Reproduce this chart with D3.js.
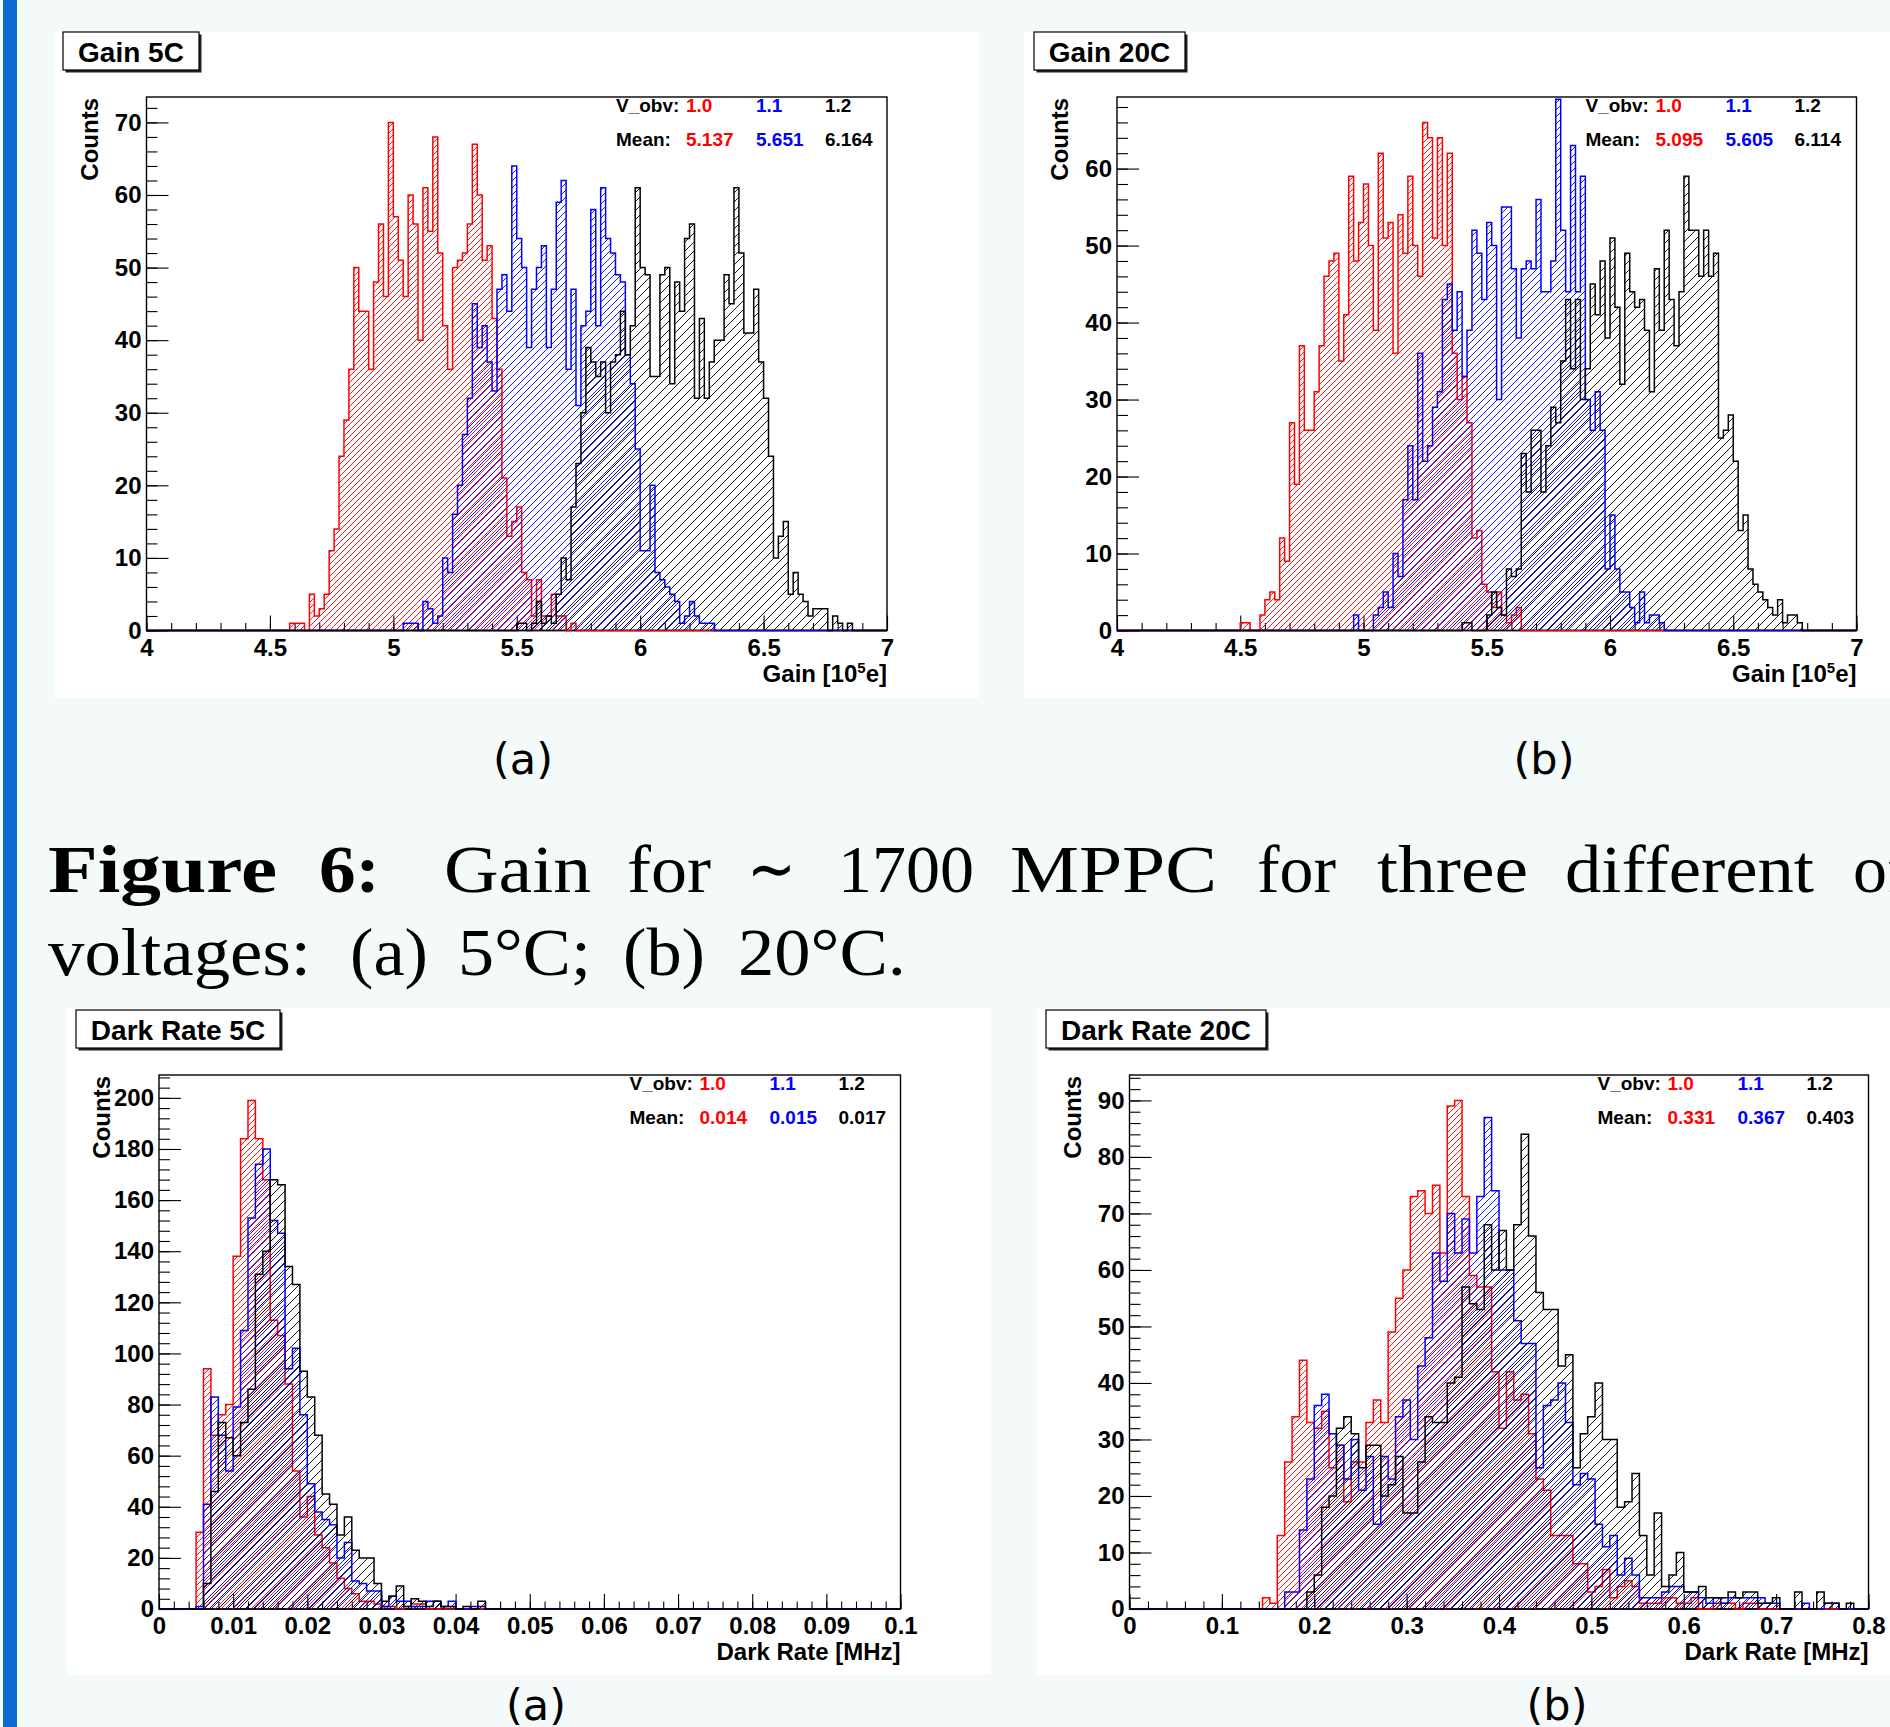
<!DOCTYPE html>
<html>
<head>
<meta charset="utf-8">
<script src="https://cdn.jsdelivr.net/npm/d3@7"></script>
<style>
  body { margin: 0; background: #f4f9f9; }
  svg { display: block; }
</style>
</head>
<body>
<script>
// ---------- data (counts per bin) ----------
const gainRange = [4, 7];
const gainBinWidth = 0.02;
const dark5Range = [0, 0.1];
const dark5BinWidth = 0.001;
const dark20Range = [0, 0.8];
const dark20BinWidth = 0.008;

const gainTicks = [4, 4.5, 5, 5.5, 6, 6.5, 7];
const dark5Ticks = [0, 0.01, 0.02, 0.03, 0.04, 0.05, 0.06, 0.07, 0.08, 0.09, 0.1];
const dark20Ticks = [0, 0.1, 0.2, 0.3, 0.4, 0.5, 0.6, 0.7, 0.8];
const gain5CountTicks = [0, 10, 20, 30, 40, 50, 60, 70];
const gain20CountTicks = [0, 10, 20, 30, 40, 50, 60];
const dark5CountTicks = [0, 20, 40, 60, 80, 100, 120, 140, 160, 180, 200];
const dark20CountTicks = [0, 10, 20, 30, 40, 50, 60, 70, 80, 90];

const overVoltages = ['1.0', '1.1', '1.2'];
const gain5Means = ['5.137', '5.651', '6.164'];
const gain20Means = ['5.095', '5.605', '6.114'];
const dark5Means = ['0.014', '0.015', '0.017'];
const dark20Means = ['0.331', '0.367', '0.403'];

// index of first listed bin, then the counts from there on
const gain5RedStart = 29;
const gain5Red = [1,1,1,0,5,2,3,5,11,14,24,29,36,50,44,44,36,48,56,46,70,57,51,46,60,56,40,61,55,68,52,42,36,50,51,52,56,67,60,51,53,43,36,21,13,15,17,8,7,2,7,2,2,5,2,2,0,1];
const gain5BlueStart = 52;
const gain5Blue = [1,1,1,0,4,3,1,2,10,8,16,20,27,32,45,39,42,37,33,47,49,44,64,54,50,39,47,50,53,39,47,59,62,36,47,31,42,44,58,42,61,54,52,49,48,38,34,25,11,11,20,8,7,6,5,4,1,2,4,2,1,1,1];
const gain5BlackStart = 75;
const gain5Black = [1,1,0,1,4,1,2,1,5,10,7,17,23,30,39,37,35,37,30,37,38,44,38,42,61,50,49,35,35,49,50,34,48,44,54,56,32,43,32,37,40,40,49,45,61,52,41,41,47,37,32,24,10,13,15,5,8,5,4,2,3,3,3,0,2,1,0,1];

const gain20RedStart = 25;
const gain20Red = [1,1,0,0,2,4,5,4,12,9,27,19,37,26,26,31,37,46,48,49,35,41,59,48,53,58,50,39,62,51,53,36,54,49,59,50,46,66,64,51,64,50,62,36,30,33,27,12,13,6,5,3,5,2,1,2,3];
const gain20BlueStart = 48;
const gain20Blue = [2,0,0,0,2,3,5,3,10,7,17,24,17,36,22,24,29,31,43,45,39,44,33,39,52,49,43,53,50,30,55,55,47,38,47,48,47,56,44,44,48,69,52,44,63,44,59,30,26,31,26,8,15,8,5,5,3,1,5,1,2,2,1];
const gain20BlackStart = 70;
const gain20Black = [1,1,0,0,0,2,5,3,2,8,7,8,23,18,26,26,18,24,29,27,35,43,34,43,30,34,45,41,48,38,51,42,32,49,44,42,43,39,31,47,39,52,43,37,44,59,52,52,46,52,46,49,25,26,28,22,13,15,8,6,5,4,3,2,4,1,2,2,1];

const dark5RedStart = 5;
const dark5Red = [30,94,68,76,80,138,184,199,184,168,113,107,88,54,36,44,29,24,18,12,8,6,3,3,2,1,1,0,1,2,2];
const dark5BlueStart = 5;
const dark5Blue = [1,41,83,68,54,79,109,153,174,180,152,147,94,102,76,49,38,35,33,20,26,11,10,7,7,1,5,3,3,1,1,3,3,1,3,0,0,1,1];
const dark5BlackStart = 6;
const dark5Black = [10,46,73,67,60,73,86,131,140,168,166,134,127,93,83,68,45,41,29,36,23,20,20,10,3,5,9,1,4,3,1,3,1,1,0,1,0,3];

const dark20RedStart = 18;
const dark20Red = [2,1,13,26,34,44,33,32,35,25,29,19,26,26,33,37,33,49,55,60,73,74,70,75,63,89,90,73,59,57,57,42,32,42,37,38,31,23,21,13,13,13,8,8,3,4,7,2,4,5,4,1,1,1,2,2,1,1,2,0,0,1,1,1,0,1,1];
const dark20BlueStart = 21;
const dark20Blue = [3,3,14,23,36,38,31,29,23,30,21,27,15,27,23,34,37,30,43,48,63,58,70,63,69,63,73,87,74,60,60,51,47,47,25,36,37,40,33,22,24,23,15,11,13,6,9,6,2,2,2,3,4,4,3,3,2,1,2,1,2,2,2,2,2,1,1,0,0,0,1,0,0,1,1];
const dark20BlackStart = 24;
const dark20Black = [3,6,18,20,32,34,31,25,29,29,20,22,27,17,17,26,34,33,33,40,41,57,54,53,68,60,67,60,68,84,66,56,53,53,43,45,25,31,34,40,30,30,18,19,24,13,6,17,4,6,10,3,3,4,2,2,2,3,2,3,3,1,1,2,0,0,3,0,0,3,1,1,0,1];

const captionLine1 = ['Figure', '6:', 'Gain', 'for', '\u223C', '1700', 'MPPC', 'for', 'three', 'different', 'of'];
const captionLine2 = ['voltages:', '(a)', '5\u00B0C;', '(b)', '20\u00B0C.'];

// ---------- page ----------
const W = 1890, H = 1727;
const colors = ['#ff0000', '#0000ff', '#000000'];
const hatchStep = [6, 7, 9];
const sansBold = 'Liberation Sans, Arial, Helvetica, sans-serif';

const svg = d3.select('body').append('svg').attr('width', W).attr('height', H);
svg.append('rect').attr('width', W).attr('height', H).attr('fill', '#f4f9f9');
svg.append('rect').attr('x', 3).attr('y', 0).attr('width', 14).attr('height', H).attr('fill', '#0a6ad2');

const defs = svg.append('defs');
colors.forEach((c, i) => {
  const s = hatchStep[i];
  defs.append('pattern')
      .attr('id', 'hatch' + i)
      .attr('patternUnits', 'userSpaceOnUse')
      .attr('width', s).attr('height', s)
    .append('path')
      .attr('d', `M${-s/2},${s/2}L${s/2},${-s/2}M0,${s}L${s},0M${s/2},${s*1.5}L${s*1.5},${s/2}`)
      .attr('stroke', c).attr('stroke-width', 0.9).attr('fill', 'none');
});

const panels = [
  { id: 'g5', title: 'Gain 5C', panel: [55, 32, 979, 698], box: [63, 32], frame: [146.5, 97, 887, 630.5],
    range: gainRange, binW: gainBinWidth, xTicks: gainTicks, xMinor: 0.1, yTicks: gain5CountTicks, yMinor: 2,
    means: gain5Means, sub: '(a)', subPos: [523, 774],
    series: [[gain5RedStart, gain5Red], [gain5BlueStart, gain5Blue], [gain5BlackStart, gain5Black]] },
  { id: 'g20', title: 'Gain 20C', panel: [1024, 32, 1890, 698], box: [1034, 32], frame: [1117, 97, 1856.5, 630.5],
    range: gainRange, binW: gainBinWidth, xTicks: gainTicks, xMinor: 0.1, yTicks: gain20CountTicks, yMinor: 2,
    means: gain20Means, sub: '(b)', subPos: [1544, 774],
    series: [[gain20RedStart, gain20Red], [gain20BlueStart, gain20Blue], [gain20BlackStart, gain20Black]] },
  { id: 'd5', title: 'Dark Rate 5C', panel: [66, 1008, 991, 1675], box: [76, 1010], frame: [159, 1075, 900.5, 1609],
    range: dark5Range, binW: dark5BinWidth, xTicks: dark5Ticks, xMinor: 0.002, yTicks: dark5CountTicks, yMinor: 4,
    means: dark5Means, sub: '(a)', subPos: [536, 1720],
    series: [[dark5RedStart, dark5Red], [dark5BlueStart, dark5Blue], [dark5BlackStart, dark5Black]] },
  { id: 'd20', title: 'Dark Rate 20C', panel: [1037, 1008, 1890, 1675], box: [1046, 1010], frame: [1129.5, 1075, 1868.5, 1609],
    range: dark20Range, binW: dark20BinWidth, xTicks: dark20Ticks, xMinor: 0.02, yTicks: dark20CountTicks, yMinor: 2,
    means: dark20Means, sub: '(b)', subPos: [1557, 1720],
    series: [[dark20RedStart, dark20Red], [dark20BlueStart, dark20Blue], [dark20BlackStart, dark20Black]] }
];

const xTitles = { g5: 'gain', g20: 'gain', d5: 'Dark Rate [MHz]', d20: 'Dark Rate [MHz]' };

function drawPanel(p) {
  const g = svg.append('g');
  const [fx0, fy0, fx1, fy1] = p.frame;
  g.append('rect')
    .attr('x', p.panel[0]).attr('y', p.panel[1])
    .attr('width', p.panel[2] - p.panel[0]).attr('height', p.panel[3] - p.panel[1])
    .attr('fill', '#fff');

  const x = d3.scaleLinear().domain(p.range).range([fx0, fx1]);
  const yMax = d3.max(p.series[0][1]) * 1.05;
  const y = d3.scaleLinear().domain([0, yMax]).range([fy1, fy0]);

  g.append('rect').attr('x', fx0).attr('y', fy0).attr('width', fx1 - fx0).attr('height', fy1 - fy0)
    .attr('fill', 'none').attr('stroke', '#000').attr('stroke-width', 1.4);

  defs.append('clipPath').attr('id', 'clip-' + p.id)
    .append('rect').attr('x', fx0 - 1).attr('y', fy0).attr('width', fx1 - fx0 + 2).attr('height', fy1 - fy0 + 2);
  const hg = g.append('g').attr('clip-path', `url(#clip-${p.id})`);

  const nBins = Math.round((p.range[1] - p.range[0]) / p.binW);
  const area = d3.area().x(d => x(d[0])).y0(y(0)).y1(d => y(d[1]));
  const line = d3.line().x(d => x(d[0])).y(d => y(d[1]));

  p.series.forEach(([start, counts], si) => {
    const bins = new Array(nBins).fill(0);
    counts.forEach((c, i) => { bins[start + i] = c; });
    const pts = [[p.range[0], 0]];
    bins.forEach((c, i) => {
      const lo = p.range[0] + i * p.binW;
      pts.push([lo, c], [lo + p.binW, c]);
    });
    pts.push([p.range[1], 0]);
    hg.append('path').attr('d', area(pts)).attr('fill', `url(#hatch${si})`);
    hg.append('path').attr('d', line(pts)).attr('fill', 'none')
      .attr('stroke', colors[si]).attr('stroke-width', 1.5).attr('stroke-linejoin', 'miter');
  });

  // x axis (ticks point inward, like ROOT)
  const fmt = d3.format('~g');
  const xMinorVals = d3.range(Math.round((p.range[1] - p.range[0]) / p.xMinor) + 1)
    .map(i => p.range[0] + i * p.xMinor);
  const gxm = g.append('g').attr('transform', `translate(0,${fy1})`)
    .call(d3.axisBottom(x).tickValues(xMinorVals).tickSize(-7.5).tickFormat(''));
  const gx = g.append('g').attr('transform', `translate(0,${fy1})`)
    .call(d3.axisBottom(x).tickValues(p.xTicks).tickSize(-15).tickPadding(8).tickFormat(fmt));

  const yMinorVals = d3.range(0, yMax, p.yMinor);
  const gym = g.append('g').attr('transform', `translate(${fx0},0)`)
    .call(d3.axisLeft(y).tickValues(yMinorVals).tickSize(-11).tickFormat(''));
  const gy = g.append('g').attr('transform', `translate(${fx0},0)`)
    .call(d3.axisLeft(y).tickValues(p.yTicks).tickSize(-22).tickPadding(5).tickFormat(d3.format('d')));

  [gxm, gx, gym, gy].forEach(a => {
    a.select('.domain').remove();
    a.selectAll('line').attr('stroke', '#000').attr('stroke-width', 1.1);
    a.attr('font-family', sansBold).attr('font-size', 24).attr('font-weight', 'bold');
    a.selectAll('text').attr('fill', '#000');
  });
  g.append('line').attr('x1', fx0).attr('x2', fx1).attr('y1', fy1).attr('y2', fy1)
    .attr('stroke', '#000').attr('stroke-width', 1.6);
  // coloured baselines of the histograms stay on top of the axis line
  hg.raise();

  // axis titles
  g.append('text')
    .attr('transform', `translate(${fx0 - 49},${fy0 + 1}) rotate(-90)`)
    .attr('text-anchor', 'end')
    .attr('font-family', sansBold).attr('font-weight', 'bold').attr('font-size', 24)
    .text('Counts');
  const xt = g.append('text')
    .attr('x', fx1).attr('y', fy1 + 51)
    .attr('text-anchor', 'end')
    .attr('font-family', sansBold).attr('font-weight', 'bold').attr('font-size', 24);
  if (xTitles[p.id] === 'gain') {
    xt.append('tspan').text('Gain [10');
    xt.append('tspan').attr('font-size', 15).attr('dy', -9).text('5');
    xt.append('tspan').attr('dy', 9).text('e]');
  } else {
    xt.text(xTitles[p.id]);
  }

  // legend
  const lg = g.append('g').attr('font-family', sansBold).attr('font-weight', 'bold').attr('font-size', 19);
  const colX = [fx1 - 271, fx1 - 201, fx1 - 131, fx1 - 62];
  lg.append('text').attr('x', colX[0]).attr('y', fy0 + 15).text('V_obv:');
  lg.append('text').attr('x', colX[0]).attr('y', fy0 + 49).text('Mean:');
  overVoltages.forEach((v, i) => {
    lg.append('text').attr('x', colX[i + 1]).attr('y', fy0 + 15).attr('fill', colors[i]).text(v);
    lg.append('text').attr('x', colX[i + 1]).attr('y', fy0 + 49).attr('fill', colors[i]).text(p.means[i]);
  });

  // title box with shadow
  const tb = g.append('g');
  const tt = tb.append('text')
    .attr('font-family', sansBold).attr('font-weight', 'bold').attr('font-size', 28)
    .text(p.title);
  const tw = tt.node().getComputedTextLength();
  const bw = Math.round(tw + 30), bh = 38;
  tb.insert('rect', 'text').attr('x', p.box[0] + 2.5).attr('y', p.box[1] + 2.5)
    .attr('width', bw).attr('height', bh).attr('fill', '#222');
  tb.insert('rect', 'text').attr('x', p.box[0]).attr('y', p.box[1])
    .attr('width', bw).attr('height', bh).attr('fill', '#fff').attr('stroke', '#000').attr('stroke-width', 1.2);
  tt.attr('x', p.box[0] + bw / 2).attr('y', p.box[1] + 30).attr('text-anchor', 'middle');

  // sub caption
  svg.append('text')
    .attr('x', p.subPos[0]).attr('y', p.subPos[1])
    .attr('text-anchor', 'middle')
    .attr('font-family', 'DejaVu Sans, Verdana, sans-serif').attr('font-size', 43)
    .text(p.sub);
}

panels.forEach(drawPanel);

// ---------- figure caption (serif, justified) ----------
const line1Layout = [[48, 229], [319, 61], [444, 147], [627, 84], [747, 49], [838, 136], [1010, 207], [1257, 79], [1377, 151], [1565, 249], [1853, 0]];
const line2Layout = [[48, 263], [350, 78], [458, 133], [623, 82], [738, 168]];
const cap = svg.append('g').attr('font-family', 'Liberation Serif, Times New Roman, serif').attr('font-size', 68).attr('fill', '#000');
captionLine1.forEach((w, i) => {
  const t = cap.append('text').attr('x', line1Layout[i][0]).attr('y', 892).text(w);
  if (i < 2) t.attr('font-weight', 'bold');
  if (line1Layout[i][1] > 0) t.attr('textLength', line1Layout[i][1]).attr('lengthAdjust', 'spacingAndGlyphs');
});
captionLine2.forEach((w, i) => {
  cap.append('text').attr('x', line2Layout[i][0]).attr('y', 975)
    .attr('textLength', line2Layout[i][1]).attr('lengthAdjust', 'spacingAndGlyphs')
    .text(w);
});
</script>
</body>
</html>
